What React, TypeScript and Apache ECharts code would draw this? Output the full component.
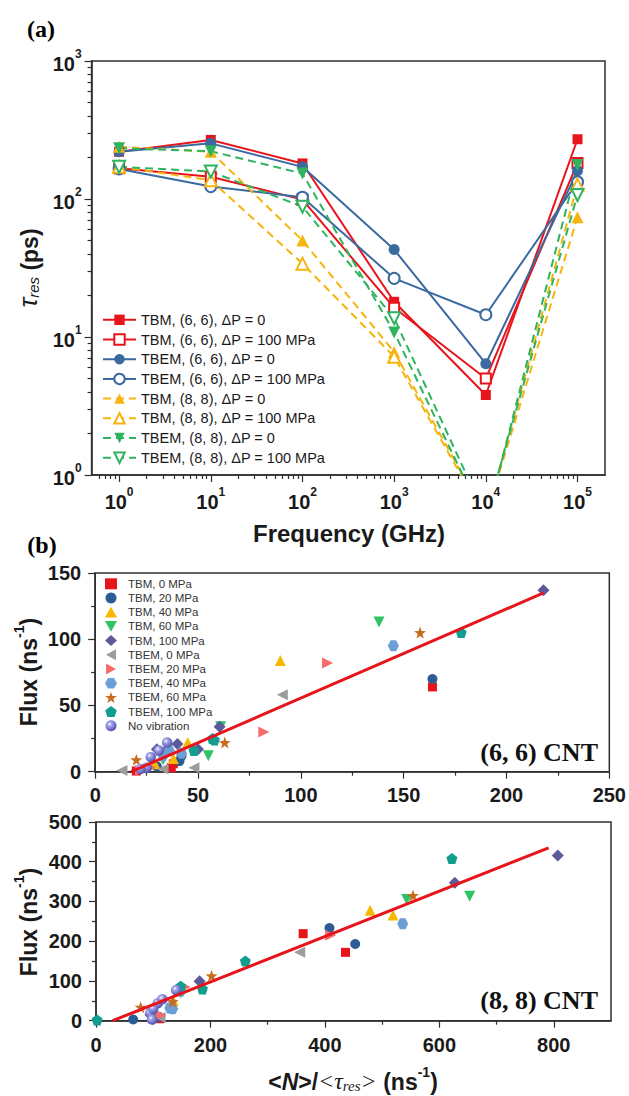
import React, { useEffect, useRef } from 'react';
import * as echarts from 'echarts';

// ---------- Panel (a): residence time vs frequency ----------
const freqGHz = [1, 10, 100, 1000, 10000, 100000];
const tbm66dp0 = [220, 268, 181, 18, 3.8, 271];
const tbm66dp100 = [167, 145, 99, 16.3, 5.0, 182];
const tbem66dp0 = [220, 253, 171, 43, 6.4, 160];
const tbem66dp100 = [165, 123, 103, 26.6, 14.5, 133];
const tbm88dp0 = [239, 220, 50, 7.8, 0.5, 73.6];
const tbm88dp100 = [171, 137, 34, 7.2, 0.48, 127];
const tbem88dp0 = [233, 222, 153, 10.8, 0.45, 176];
const tbem88dp100 = [171, 158, 88, 13.7, 0.5, 107];
const freqDecades = [0, 1, 2, 3, 4, 5];
const tauDecades = [0, 1, 2, 3];

// ---------- Panel (b): flux vs <N>/<tau_res>, (6,6) CNT ----------
const b66_tbm0 = [[164, 64], [37, 3], [38, 6], [20, 0.5]];
const b66_tbm20 = [[164, 70], [41, 8], [42, 12], [30, 4]];
const b66_tbm40 = [[90, 84], [45, 22], [38, 10], [29, 6]];
const b66_tbm60 = [[138, 113], [55, 12], [61, 34], [33, 9]];
const b66_tbm100 = [[218, 137], [60.5, 34], [50, 17], [40, 21], [30, 17], [34, 15]];
const b66_tbem0 = [[91, 58], [48, 3], [13, 1], [33, 2]];
const b66_tbem20 = [[113, 82], [82, 30], [27, 3], [22, 1]];
const b66_tbem40 = [[145, 95], [36, 16], [42, 14], [33, 12]];
const b66_tbem60 = [[158, 105], [63, 22], [20, 9], [31, 16]];
const b66_tbem100 = [[178, 105], [57, 25], [48, 16], [58, 24]];
const b66_novib = [[35, 22], [31, 16], [27, 11], [25, 3], [22, 2]];
const fit66X = [17.5, 218];
const fit66Y = [0, 135];

// ---------- Panel (b): (8,8) CNT ----------
const b88_tbm0 = [[362, 219], [436, 172], [112, 5]];
const b88_tbm20 = [[408, 233], [453, 193], [65, 3], [110, 10]];
const b88_tbm40 = [[479, 278], [519, 266], [135, 50]];
const b88_tbm60 = [[543, 305], [653, 313], [148, 70]];
const b88_tbm100 = [[807, 416], [627, 347], [181, 99], [95, 15]];
const b88_tbem0 = [[356, 172], [112, 8], [130, 40]];
const b88_tbem20 = [[410, 215], [156, 85], [113, 14]];
const b88_tbem40 = [[536, 244], [134, 30], [129, 32], [148, 75]];
const b88_tbem60 = [[554, 315], [202, 113], [78, 34], [134, 48]];
const b88_tbem100 = [[622, 408], [261, 150], [186, 80], [148, 87], [2, 2]];
const b88_novib = [[95, 20], [108, 44], [116, 54], [140, 77], [100, 30], [98, 3]];
const fit88X = [29, 791];
const fit88Y = [0, 435];
const b88MajorX = [0, 200, 400, 600, 800];
const b88MinorX = [100, 300, 500, 700];

const SANS = 'Liberation Sans, Arial, Helvetica, sans-serif';
const SERIF = 'Liberation Serif, Times New Roman, serif';
const AX = '#2f2f2f';
const TXT = '#1a1a1a';

const RED = '#e8141b';
const BLUE = '#3b6aa0';
const YEL = '#f6b40e';
const GRN = '#2fb35f';

const STAR = 'path://M0,-10 L2.35,-3.24 L9.51,-3.09 L3.8,1.24 L5.88,8.09 L0,4 L-5.88,8.09 L-3.8,1.24 L-9.51,-3.09 L-2.35,-3.24 Z';
const PENT = 'path://M0,-10 L9.51,-3.09 L5.88,8.09 L-5.88,8.09 L-9.51,-3.09 Z';
const HEX = 'path://M-5,-8.66 L5,-8.66 L10,0 L5,8.66 L-5,8.66 L-10,0 Z';
const TRI_UP = 'path://M0,-10 L10,8 L-10,8 Z';
const TRI_DOWN = 'path://M-10,-8 L10,-8 L0,10 Z';
const TRI_LEFT = 'path://M-10,0 L8,-10 L8,10 Z';
const TRI_RIGHT = 'path://M10,0 L-8,-10 L-8,10 Z';

function minorLogTicks(lo: number, hi: number) {
  const out: number[] = [];
  for (let n = -2; n <= 6; n++) {
    for (let k = 2; k <= 9; k++) {
      const v = Math.log10(k * Math.pow(10, n));
      if (v > lo && v < hi) out.push(v);
    }
  }
  return out;
}

function buildOption() {
  const axisLine = { show: true, onZero: false, lineStyle: { color: AX, width: 1.5 } };
  const noLine = { show: false, onZero: false };
  const tickStyle = { color: AX, width: 1.2 };
  const powRich = {
    b: { fontSize: 20, fontWeight: 'bold', fontFamily: SANS, color: TXT, lineHeight: 26, verticalAlign: 'bottom' },
    s: { fontSize: 12, fontWeight: 'bold', fontFamily: SANS, color: TXT, lineHeight: 14, verticalAlign: 'top' },
  };
  const numLabel = (margin: number) => ({
    margin,
    fontSize: 20,
    fontWeight: 'bold',
    fontFamily: SANS,
    color: TXT,
  });

  const aXmin = -0.3, aXmax = 5.3;

  const xAxis: any[] = [
    {
      gridIndex: 0, type: 'value', min: aXmin, max: aXmax, position: 'bottom',
      splitLine: { show: false }, axisLine,
      axisTick: { customValues: freqDecades, length: 7, lineStyle: tickStyle },
      axisLabel: {
        customValues: freqDecades, margin: 11,
        formatter: (v: number) => `{b|10}{s|${Math.round(v)}}`, rich: powRich,
      },
    },
    {
      gridIndex: 0, type: 'value', min: aXmin, max: aXmax, position: 'bottom',
      splitLine: { show: false }, axisLine: noLine,
      axisTick: { customValues: minorLogTicks(aXmin, aXmax), length: 4, lineStyle: tickStyle },
      axisLabel: { show: false },
    },
    {
      gridIndex: 1, type: 'value', min: 0, max: 250, interval: 50, position: 'bottom',
      splitLine: { show: false }, axisLine,
      axisTick: { length: 7, lineStyle: tickStyle },
      minorTick: { show: true, splitNumber: 2, length: 4, lineStyle: tickStyle },
      axisLabel: numLabel(13),
    },
    {
      gridIndex: 2, type: 'value', min: 0, max: 900, position: 'bottom',
      splitLine: { show: false }, axisLine,
      axisTick: { customValues: b88MajorX, length: 7, lineStyle: tickStyle },
      axisLabel: { ...numLabel(14), customValues: b88MajorX },
    },
    {
      gridIndex: 2, type: 'value', min: 0, max: 900, position: 'bottom',
      splitLine: { show: false }, axisLine: noLine,
      axisTick: { customValues: b88MinorX, length: 4, lineStyle: tickStyle },
      axisLabel: { show: false },
    },
  ];

  const yAxis: any[] = [
    {
      gridIndex: 0, type: 'value', min: 0, max: 3, position: 'left',
      splitLine: { show: false }, axisLine,
      axisTick: { customValues: tauDecades, length: 7, lineStyle: tickStyle },
      axisLabel: {
        customValues: tauDecades, margin: 10,
        formatter: (v: number) => `{b|10}{s|${Math.round(v)}}`, rich: powRich,
      },
    },
    {
      gridIndex: 0, type: 'value', min: 0, max: 3, position: 'left',
      splitLine: { show: false }, axisLine: noLine,
      axisTick: { customValues: minorLogTicks(0, 3), length: 4, lineStyle: tickStyle },
      axisLabel: { show: false },
    },
    {
      gridIndex: 1, type: 'value', min: 0, max: 150, interval: 50, position: 'left',
      splitLine: { show: false }, axisLine,
      axisTick: { length: 7, lineStyle: tickStyle },
      minorTick: { show: true, splitNumber: 2, length: 4, lineStyle: tickStyle },
      axisLabel: numLabel(14),
    },
    {
      gridIndex: 2, type: 'value', min: 0, max: 500, interval: 100, position: 'left',
      splitLine: { show: false }, axisLine,
      axisTick: { length: 7, lineStyle: tickStyle },
      minorTick: { show: true, splitNumber: 2, length: 4, lineStyle: tickStyle },
      axisLabel: numLabel(14),
    },
  ];

  const toLog = (vals: number[]) => freqGHz.map((f, i) => [Math.log10(f), Math.log10(vals[i])]);
  const lineSeries = (name: string, vals: number[], color: string, symbol: string, rotate: number, dashed: boolean, size: number) => ({
    name, type: 'line', xAxisIndex: 0, yAxisIndex: 0,
    data: toLog(vals),
    symbol, symbolSize: size, symbolRotate: rotate,
    itemStyle: { color },
    lineStyle: { color, width: 2, type: dashed ? [8, 5] : 'solid' },
    clip: true, z: 3,
  });

  const aSeries = [
    lineSeries('TBM, (6, 6), ΔP = 0', tbm66dp0, RED, 'rect', 0, false, 10),
    lineSeries('TBM, (6, 6), ΔP = 100 MPa', tbm66dp100, RED, 'emptyRect', 0, false, 10),
    lineSeries('TBEM, (6, 6), ΔP = 0', tbem66dp0, BLUE, 'circle', 0, false, 11),
    lineSeries('TBEM, (6, 6), ΔP = 100 MPa', tbem66dp100, BLUE, 'emptyCircle', 0, false, 11),
    lineSeries('TBM, (8, 8), ΔP = 0', tbm88dp0, YEL, 'triangle', 0, true, 12),
    lineSeries('TBM, (8, 8), ΔP = 100 MPa', tbm88dp100, YEL, 'emptyTriangle', 0, true, 12),
    lineSeries('TBEM, (8, 8), ΔP = 0', tbem88dp0, GRN, 'triangle', 180, true, 12),
    lineSeries('TBEM, (8, 8), ΔP = 100 MPa', tbem88dp100, GRN, 'emptyTriangle', 180, true, 12),
  ];

  const sphere = {
    type: 'radial', x: 0.38, y: 0.35, r: 0.62,
    colorStops: [
      { offset: 0, color: '#ffffff' },
      { offset: 0.3, color: '#a4a4ec' },
      { offset: 1, color: '#5656b4' },
    ],
  };

  const bDefs = [
    { name: 'TBM, 0 MPa', color: RED, symbol: 'rect', size: 9, d66: b66_tbm0, d88: b88_tbm0 },
    { name: 'TBM, 20 MPa', color: '#2d5c94', symbol: 'circle', size: 10, d66: b66_tbm20, d88: b88_tbm20 },
    { name: 'TBM, 40 MPa', color: '#f8b800', symbol: TRI_UP, size: 11, d66: b66_tbm40, d88: b88_tbm40 },
    { name: 'TBM, 60 MPa', color: '#2ec466', symbol: TRI_DOWN, size: 11, d66: b66_tbm60, d88: b88_tbm60 },
    { name: 'TBM, 100 MPa', color: '#5b5b9b', symbol: 'diamond', size: 12, d66: b66_tbm100, d88: b88_tbm100 },
    { name: 'TBEM, 0 MPa', color: '#9c9c9c', symbol: TRI_LEFT, size: 11, d66: b66_tbem0, d88: b88_tbem0 },
    { name: 'TBEM, 20 MPa', color: '#f46c6c', symbol: TRI_RIGHT, size: 11, d66: b66_tbem20, d88: b88_tbem20 },
    { name: 'TBEM, 40 MPa', color: '#6b9fd6', symbol: HEX, size: 11, d66: b66_tbem40, d88: b88_tbem40 },
    { name: 'TBEM, 60 MPa', color: '#c66c1c', symbol: STAR, size: 12, d66: b66_tbem60, d88: b88_tbem60 },
    { name: 'TBEM, 100 MPa', color: '#129e8f', symbol: PENT, size: 11, d66: b66_tbem100, d88: b88_tbem100 },
    { name: 'No vibration', color: sphere as any, symbol: 'circle', size: 10.5, d66: b66_novib, d88: b88_novib },
  ];

  const bSeries: any[] = [];
  bDefs.forEach((d) => {
    bSeries.push({
      name: d.name, type: 'scatter', xAxisIndex: 2, yAxisIndex: 2,
      data: d.d66, symbol: d.symbol, symbolSize: d.size,
      itemStyle: { color: d.color, opacity: 1 }, z: 2,
    });
    bSeries.push({
      name: d.name, type: 'scatter', xAxisIndex: 3, yAxisIndex: 3,
      data: d.d88, symbol: d.symbol, symbolSize: d.size,
      itemStyle: { color: d.color, opacity: 1 }, z: 2,
    });
  });
  bSeries.push({
    name: 'fit66', type: 'line', xAxisIndex: 2, yAxisIndex: 2,
    data: fit66X.map((x, i) => [x, fit66Y[i]]), symbol: 'none',
    lineStyle: { color: RED, width: 3 }, z: 4,
  });
  bSeries.push({
    name: 'fit88', type: 'line', xAxisIndex: 3, yAxisIndex: 3,
    data: fit88X.map((x, i) => [x, fit88Y[i]]), symbol: 'none',
    lineStyle: { color: RED, width: 3 }, z: 4,
  });

  const gridStyle = { show: true, borderColor: AX, borderWidth: 1.5, backgroundColor: 'transparent', containLabel: false };

  const graphic: any[] = [
    { type: 'text', x: 41, y: 29, style: { text: '(a)', font: `bold 24px ${SERIF}`, fill: '#000', align: 'center', verticalAlign: 'middle' } },
    { type: 'text', x: 42, y: 545, style: { text: '(b)', font: `bold 24px ${SERIF}`, fill: '#000', align: 'center', verticalAlign: 'middle' } },
    { type: 'text', x: 349, y: 533, style: { text: 'Frequency (GHz)', font: `bold 24px ${SANS}`, fill: TXT, align: 'center', verticalAlign: 'middle' } },
    {
      type: 'text', x: 27, y: 268, rotation: Math.PI / 2,
      style: {
        text: '{t|τ}{sub|res}{n| (ps)}', align: 'center', verticalAlign: 'middle',
        rich: {
          t: { fontSize: 26, fontStyle: 'italic', fontFamily: SANS, fill: TXT, lineHeight: 28, verticalAlign: 'bottom' },
          sub: { fontSize: 15, fontStyle: 'italic', fontFamily: SANS, fill: TXT, lineHeight: 14, verticalAlign: 'bottom' },
          n: { fontSize: 23, fontWeight: 'bold', fontFamily: SANS, fill: TXT, lineHeight: 28, verticalAlign: 'bottom' },
        },
      },
    },
    ...[672, 922].map((cy) => ({
      type: 'text', x: 26, y: cy, rotation: Math.PI / 2,
      style: {
        text: '{n|Flux (ns}{s|-1}{n|)}', align: 'center', verticalAlign: 'middle',
        rich: {
          n: { fontSize: 23, fontWeight: 'bold', fontFamily: SANS, fill: TXT, lineHeight: 28, verticalAlign: 'bottom' },
          s: { fontSize: 14, fontWeight: 'bold', fontFamily: SANS, fill: TXT, lineHeight: 16, verticalAlign: 'top' },
        },
      },
    })),
    {
      type: 'text', x: 353, y: 1079,
      style: {
        text: '{n|<}{ni|N}{n|>/}{r|<τ}{sub|res}{r|>}{n| (ns}{s|-1}{n|)}', align: 'center', verticalAlign: 'middle',
        rich: {
          n: { fontSize: 23, fontWeight: 'bold', fontFamily: SANS, fill: TXT, lineHeight: 28, verticalAlign: 'bottom' },
          ni: { fontSize: 23, fontWeight: 'bold', fontStyle: 'italic', fontFamily: SANS, fill: TXT, lineHeight: 28, verticalAlign: 'bottom' },
          r: { fontSize: 24, fontStyle: 'italic', fontFamily: SERIF, fill: TXT, lineHeight: 28, verticalAlign: 'bottom' },
          sub: { fontSize: 15, fontStyle: 'italic', fontFamily: SERIF, fill: TXT, lineHeight: 14, verticalAlign: 'bottom' },
          s: { fontSize: 14, fontWeight: 'bold', fontFamily: SANS, fill: TXT, lineHeight: 16, verticalAlign: 'top' },
        },
      },
    },
    { type: 'text', x: 598, y: 752, style: { text: '(6, 6) CNT', font: `bold 26px ${SERIF}`, fill: '#111', align: 'right', verticalAlign: 'middle' } },
    { type: 'text', x: 598, y: 1000, style: { text: '(8, 8) CNT', font: `bold 26px ${SERIF}`, fill: '#111', align: 'right', verticalAlign: 'middle' } },
  ];

  return {
    animation: false,
    backgroundColor: '#ffffff',
    grid: [
      { left: 91.6, top: 61, width: 513.4, height: 414, ...gridStyle },
      { left: 95.2, top: 573, width: 515.2, height: 198.7, ...gridStyle },
      { left: 96, top: 822, width: 515, height: 198.7, ...gridStyle },
    ],
    xAxis,
    yAxis,
    legend: [
      {
        orient: 'vertical', left: 102, top: 312.3, padding: 0,
        itemWidth: 33, itemHeight: 13, itemGap: 4.7,
        textStyle: { fontSize: 14.5, fontFamily: SANS, color: TXT, lineHeight: 13 },
        data: aSeries.map((s) => s.name),
        selectedMode: false,
      },
      {
        orient: 'vertical', left: 105, top: 577.8, padding: 0,
        itemWidth: 12, itemHeight: 11, itemGap: 2.2,
        textStyle: { fontSize: 11.5, fontFamily: SANS, color: '#333', lineHeight: 11, padding: [0, 0, 0, 6] },
        data: bDefs.map((d) => d.name),
        selectedMode: false,
      },
    ],
    graphic,
    series: [...aSeries, ...bSeries],
  };
}

export default function App() {
  const ref = useRef<HTMLDivElement>(null);
  useEffect(() => {
    if (!ref.current) return;
    const chart = echarts.init(ref.current, null, { renderer: 'svg' });
    chart.setOption(buildOption() as any);
    return () => chart.dispose();
  }, []);
  return (
    <div
      ref={ref}
      style={{ position: 'absolute', left: 0, top: 0, width: 629, height: 1096, background: '#fff' }}
    />
  );
}
